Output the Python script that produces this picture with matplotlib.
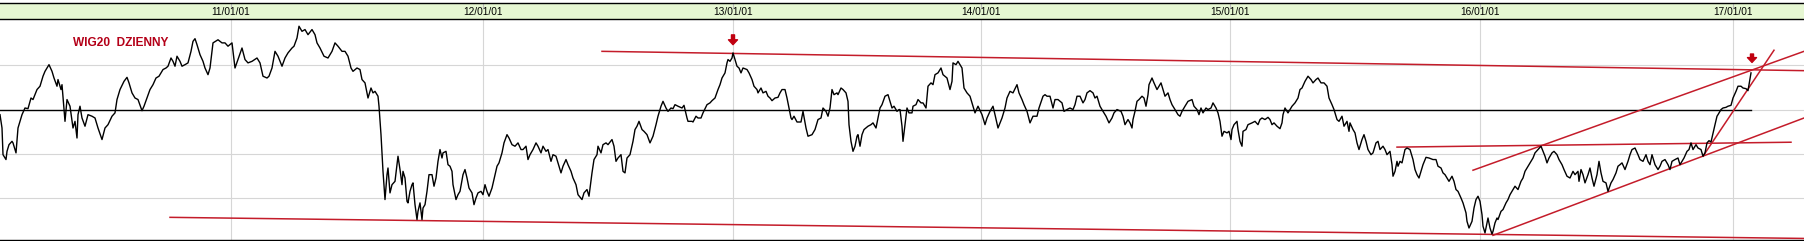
import matplotlib
matplotlib.use("Agg")
import matplotlib.pyplot as plt

# WIG20 daily close, x = session number (about one session per pixel column)
session = [
    0, 2, 3, 6, 7, 9, 12, 13, 16, 18, 22, 25, 28, 31, 33, 37, 40, 43, 45, 49,
    52, 54, 57, 58, 61, 62, 65, 67, 70, 73, 75, 77, 78, 80, 82, 85, 88, 92, 95, 98,
    102, 105, 108, 112, 115, 117, 120, 124, 127, 129, 132, 135, 138, 142, 144, 147, 150, 153, 156, 159,
    163, 166, 168, 171, 173, 175, 177, 180, 182, 185, 188, 191, 193, 195, 197, 200, 203, 205, 208, 210,
    212, 213, 218, 222,
    225, 228, 232, 235, 238, 242, 245, 248, 252, 257, 260, 263, 267, 269, 272, 275, 278, 282, 285, 288,
    292, 294, 297, 299, 302, 305, 308, 312, 315, 317, 320, 324, 328, 332, 335, 338, 342, 345, 348, 351,
    353, 357, 360, 362, 365, 368, 369, 371, 373, 375, 378, 379, 381, 383, 385, 387, 388, 390, 392, 395,
    398, 400, 402, 403, 405, 407, 408, 410, 412, 413, 415, 417, 418, 420, 422, 423, 425, 427, 429, 432,
    434, 436, 438, 440, 442, 443, 446, 448,
    450, 452, 453, 456, 458, 460, 463, 465, 467, 469, 472, 474, 476, 478, 481, 483, 485, 487, 489, 492,
    495, 497, 499, 502, 504, 507, 509, 512, 515, 518, 521, 523, 526, 528, 530, 533, 536, 538, 541, 543,
    546, 548, 551, 553, 556, 558, 561, 563, 566, 568, 571, 573, 576, 578, 582, 584, 587, 589, 592, 594,
    597, 598, 601, 603, 606, 608, 612, 614, 616, 618, 621, 623, 625, 627, 630, 633, 635, 637, 639, 642,
    644, 647, 650, 653, 656, 658, 661, 663, 666, 668, 671, 673,
    675, 678, 682, 684, 687, 688, 692, 693, 696, 698, 701, 703, 707, 710, 712, 715, 718, 720, 722, 725,
    727, 728, 730, 732, 733, 735, 737, 739, 741, 743, 747, 749, 752, 754, 757, 758, 761, 763, 766, 768,
    770, 772, 775, 778, 780, 782, 785, 787, 789, 791, 792, 794, 797, 799, 801, 803, 806, 808, 812, 815,
    818, 821, 823, 826, 828, 830, 832, 834, 837, 838, 841, 843, 846, 848, 849, 851, 853, 855, 857, 858,
    860, 862, 864, 868, 871, 873, 876, 878, 880, 882, 885, 888, 890, 892, 894, 897, 899,
    900, 902, 903, 905, 907, 909, 912, 913, 916, 918, 921, 923, 926, 928, 931, 933, 935, 938, 941, 943,
    947, 950, 952, 953, 956, 958, 962, 964, 967, 970, 973, 975, 978, 982, 985, 987, 990, 993, 995, 998,
    1002, 1005, 1007, 1010, 1013, 1017, 1019, 1022, 1024, 1027, 1030, 1033, 1037, 1039, 1043, 1045, 1047, 1050, 1053, 1055,
    1058, 1062, 1064, 1067, 1070, 1073, 1075, 1077, 1080, 1083, 1085, 1087, 1090, 1093, 1095, 1097, 1100, 1103, 1106, 1109,
    1112, 1114, 1117, 1121, 1123,
    1125, 1128, 1130, 1132, 1133, 1135, 1137, 1139, 1142, 1144, 1146, 1148, 1149, 1152, 1154, 1157, 1159, 1161, 1163, 1165,
    1168, 1170, 1172, 1175, 1178, 1180, 1182, 1185, 1188, 1192, 1194, 1197, 1199, 1201, 1203, 1206, 1208, 1211, 1213, 1216,
    1218, 1220, 1222, 1224, 1227, 1229, 1231, 1232, 1234, 1237, 1238, 1240, 1242, 1243, 1246, 1248, 1252, 1255, 1258, 1260,
    1262, 1265, 1268, 1270, 1272, 1274, 1277, 1280, 1282, 1283, 1285, 1288, 1290, 1292, 1295, 1298, 1300, 1302, 1305, 1308,
    1311, 1313, 1316, 1318, 1321, 1324, 1327, 1329, 1332, 1334, 1337, 1339, 1342, 1344, 1347, 1349,
    1350, 1353, 1355, 1357, 1359, 1362, 1364, 1366, 1368, 1371, 1373, 1376, 1378, 1380, 1383, 1385, 1387, 1390, 1392, 1393,
    1395, 1397, 1398, 1400, 1402, 1405, 1407, 1410, 1413, 1415, 1417, 1419, 1421, 1423, 1426, 1429, 1433, 1436, 1438, 1441,
    1443, 1445, 1447, 1449, 1452, 1454, 1456, 1458, 1461, 1463, 1466, 1467, 1469, 1472, 1474, 1476, 1478, 1480, 1482, 1483,
    1485, 1487, 1488, 1490, 1492, 1493, 1495, 1497, 1498, 1501, 1503, 1506, 1508, 1510, 1513, 1515, 1518, 1521, 1523, 1525,
    1527, 1530, 1533, 1535, 1538, 1541, 1543, 1545, 1547, 1549, 1552, 1554, 1557, 1559, 1562, 1564, 1567, 1570, 1573,
    1575, 1578, 1579, 1581, 1583, 1585, 1588, 1590, 1592, 1594, 1597, 1599, 1601, 1603, 1606, 1608, 1611, 1613, 1616, 1618,
    1620, 1622, 1625, 1628, 1630, 1632, 1635, 1638, 1640, 1643, 1646, 1648, 1650, 1652, 1655, 1658, 1660, 1662, 1665, 1668,
    1670, 1672, 1675, 1678, 1680, 1682, 1684, 1687, 1689, 1691, 1693, 1696, 1698, 1701, 1703, 1705, 1707, 1709, 1711, 1713,
    1715, 1717, 1718, 1721, 1723, 1726, 1728, 1731, 1733, 1736, 1738, 1741, 1743, 1746, 1748, 1749, 1750, 1751,
]
close = [
    2377, 2317, 2197, 2175, 2212, 2242, 2257, 2250, 2205, 2317, 2377, 2407, 2404, 2452, 2445, 2490, 2505, 2550, 2572, 2602,
    2572, 2542, 2505, 2535, 2490, 2512, 2347, 2445, 2415, 2317, 2347, 2272, 2377, 2415, 2362, 2325, 2377, 2370, 2362, 2317,
    2265, 2317, 2332, 2370, 2385, 2445, 2490, 2527, 2545, 2520, 2475, 2452, 2445, 2395, 2415, 2452, 2490, 2512, 2542, 2550,
    2580, 2587, 2595, 2632, 2617, 2595, 2640, 2617, 2595, 2602, 2610, 2662, 2707, 2719, 2692, 2647, 2617, 2587, 2557, 2587,
    2662, 2700, 2714, 2700,
    2700, 2685, 2700, 2587, 2625, 2677, 2625, 2610, 2617, 2632, 2610, 2550, 2542, 2550, 2587, 2662, 2640, 2595, 2632, 2655,
    2677, 2685, 2722, 2775, 2752, 2760, 2737, 2760, 2737, 2700, 2677, 2640, 2632, 2662, 2700, 2685, 2662, 2662, 2640, 2587,
    2572, 2587, 2580, 2535, 2520, 2452, 2467, 2497, 2475, 2482, 2460, 2415, 2287, 2122, 1995, 2107, 2137, 2025, 2062, 2077,
    2190, 2130, 2062, 2122, 2092, 1987, 1980, 2032, 2062, 2070, 1972, 1905, 1942, 1980, 1905, 1957, 1972, 2032, 2107, 2107,
    2055, 2092, 2167, 2220, 2182, 2205, 2212, 2152,
    2145, 2122, 2062, 1995, 2017, 2032, 2107, 2130, 2092, 2047, 2025, 1972, 2002, 2025, 2032, 2017, 2062, 2032, 2010, 2047,
    2107, 2145, 2160, 2205, 2250, 2287, 2272, 2242, 2235, 2250, 2220, 2220, 2235, 2175, 2197, 2220, 2250, 2235, 2205, 2235,
    2212, 2220, 2167, 2197, 2190, 2160, 2115, 2145, 2175, 2152, 2122, 2092, 2062, 2017, 1995, 2025, 2040, 2010, 2115, 2175,
    2197, 2235, 2205, 2242, 2250, 2242, 2265, 2235, 2167, 2182, 2197, 2122, 2115, 2182, 2197, 2257, 2310, 2325, 2347, 2310,
    2302, 2287, 2250, 2280, 2332, 2370, 2415, 2437, 2407, 2392, 2407, 2404,
    2422, 2415, 2407, 2419, 2362, 2347, 2347, 2344, 2370, 2362, 2362, 2385, 2422, 2430, 2440, 2452, 2490, 2512, 2542, 2565,
    2610, 2625, 2617, 2632, 2655, 2625, 2595, 2587, 2565, 2587, 2580, 2565, 2535, 2505, 2490, 2475, 2497, 2475, 2482, 2460,
    2452, 2440, 2452, 2455, 2475, 2490, 2490, 2452, 2407, 2362, 2355, 2370, 2344, 2344, 2344, 2392, 2317, 2280, 2287, 2310,
    2355, 2362, 2407, 2392, 2370, 2407, 2490, 2467, 2475, 2467, 2497, 2490, 2475, 2437, 2332, 2257, 2212, 2235, 2280, 2287,
    2235, 2287, 2310, 2325, 2332, 2340, 2317, 2362, 2407, 2422, 2460, 2467, 2437, 2407, 2415, 2392, 2400,
    2400, 2325, 2257, 2332, 2407, 2385, 2385, 2415, 2422, 2445, 2430, 2430, 2407, 2505, 2520, 2512, 2557, 2565, 2587, 2557,
    2542, 2490, 2527, 2610, 2602, 2617, 2587, 2497, 2475, 2460, 2415, 2385, 2415, 2377, 2332, 2362, 2392, 2415, 2377, 2317,
    2362, 2407, 2452, 2482, 2475, 2512, 2475, 2445, 2422, 2392, 2340, 2370, 2370, 2407, 2460, 2467, 2460, 2460, 2407, 2445,
    2445, 2430, 2392, 2400, 2407, 2400, 2422, 2460, 2460, 2430, 2445, 2475, 2485, 2475, 2452, 2460, 2415, 2392, 2370, 2340,
    2362, 2385, 2400, 2392, 2370,
    2332, 2355, 2340, 2317, 2355, 2392, 2437, 2445, 2460, 2452, 2415, 2467, 2512, 2542, 2520, 2490, 2505, 2520, 2490, 2460,
    2475, 2445, 2422, 2400, 2377, 2370, 2392, 2415, 2437, 2445, 2415, 2400, 2377, 2407, 2385, 2407, 2400, 2407, 2430, 2407,
    2385, 2347, 2280, 2302, 2295, 2302, 2265, 2310, 2332, 2347, 2310, 2257, 2235, 2302, 2310, 2332, 2340, 2347, 2332, 2355,
    2362, 2355, 2365, 2355, 2332, 2340, 2325, 2314, 2340, 2377, 2407, 2385, 2400, 2415, 2430, 2452, 2490, 2497, 2527, 2550,
    2535, 2520, 2535, 2542, 2520, 2520, 2505, 2452, 2422, 2400, 2355, 2347, 2370, 2325, 2347, 2302,
    2340, 2310, 2295, 2250, 2220, 2265, 2287, 2257, 2220, 2197, 2205, 2250, 2257, 2220, 2235, 2220, 2197, 2212, 2152, 2100,
    2122, 2167, 2145, 2167, 2160, 2220, 2227, 2220, 2175, 2130, 2107, 2092, 2122, 2152, 2185, 2182, 2175, 2175, 2145, 2137,
    2115, 2107, 2092, 2077, 2100, 2077, 2040, 2032, 2002, 1980, 1935, 1897, 1867, 1897, 1957, 1995, 2010, 1987, 1927, 1875,
    1845, 1890, 1912, 1867, 1840, 1852, 1890, 1912, 1905, 1942, 1950, 1980, 1995, 2017, 2040, 2055, 2040, 2077, 2092, 2122,
    2137, 2160, 2182, 2205, 2220, 2235, 2212, 2190, 2160, 2182, 2205, 2212, 2197, 2175, 2152, 2130, 2100, 2092, 2122,
    2107, 2122, 2077, 2130, 2107, 2070, 2107, 2137, 2092, 2055, 2107, 2167, 2115, 2077, 2070, 2032, 2070, 2085, 2115, 2145,
    2152, 2160, 2130, 2167, 2197, 2220, 2227, 2197, 2175, 2167, 2197, 2167, 2152, 2197, 2152, 2130, 2145, 2167, 2175, 2152,
    2130, 2167, 2175, 2182, 2152, 2167, 2182, 2212, 2220, 2250, 2220, 2242, 2227, 2220, 2190, 2205, 2250, 2260, 2254, 2294,
    2332, 2370, 2377, 2400, 2407, 2410, 2415, 2419, 2452, 2482, 2505, 2505, 2497, 2494, 2485, 2512, 2542, 2565,
]

# first session of each year and its label (yy/mm/dd)
year_start = [231, 483, 733, 981, 1230, 1480, 1733]
year_labels = ["11/01/01", "12/01/01", "13/01/01", "14/01/01", "15/01/01", "16/01/01", "17/01/01"]
grid_levels = [2000, 2200, 2400, 2600]

# trend lines drawn on the chart: (session_a, level_a, session_b, level_b)
trend_lines = [
    (170, 1915, 1804, 1820),   # long support
    (602, 2662, 1804, 2575),   # long resistance
    (1397, 2231, 1791, 2253),  # flat resistance
    (1473, 2127, 1804, 2662),  # channel top
    (1493, 1834, 1804, 2362),  # channel bottom
    (1703, 2190, 1774, 2667),  # steep support
]
level_line = (0, 1751, 2400)
arrows = [(733, 2736, 2692), (1752, 2650, 2612)]

RED = "#c41c2a"

fig = plt.figure(figsize=(18.04, 2.41), dpi=100)
ax = fig.add_axes([0, 1 / 241, 1, 221 / 241])
hdr = fig.add_axes([0, 1 - 19 / 241, 1, 15.7 / 241])

ax.set_xlim(0, 1804)
ax.set_ylim(1813, 2807.5)
for lv in grid_levels:
    ax.axhline(lv, color="#d6d6d6", lw=0.8, zorder=1)
for s in year_start:
    ax.axvline(s, color="#d6d6d6", lw=0.8, zorder=1)

ax.plot([level_line[0], level_line[1]], [level_line[2], level_line[2]], color="black", lw=1.0, zorder=2)
for x0, y0, x1, y1 in trend_lines:
    ax.plot([x0, x1], [y0, y1], color=RED, lw=1.1, zorder=3)
ax.plot(session, close, color="black", lw=1.0, zorder=4)

for s, top, tip in arrows:
    ax.annotate("", xy=(s, tip), xytext=(s, top),
                arrowprops=dict(facecolor="#c00010", edgecolor="#c00010",
                                width=2.2, headwidth=6.5, headlength=3.5, shrink=0))

ax.text(73, 2701, "WIG20  DZIENNY", color="#b40018", fontsize=8.6, fontweight="bold",
        family="Liberation Sans", va="center", ha="left")

ax.set_xticks([])
ax.set_yticks([])
for side in ["top", "left", "right"]:
    ax.spines[side].set_visible(False)
ax.spines["bottom"].set_color("black")
ax.spines["bottom"].set_linewidth(1.0)

hdr.set_facecolor("#e6f7d2")
hdr.set_xlim(0, 1804)
hdr.set_ylim(0, 1)
hdr.set_xticks([])
hdr.set_yticks([])
for side in ["left", "right"]:
    hdr.spines[side].set_visible(False)
for side in ["top", "bottom"]:
    hdr.spines[side].set_color("black")
    hdr.spines[side].set_linewidth(1.0)
for s, lab in zip(year_start, year_labels):
    hdr.axvline(s, ymin=0.7, ymax=1, color="#bbbbbb", lw=0.8)
    hdr.text(s, 0.45, lab, ha="center", va="center", fontsize=7.3, family="Liberation Sans")

fig.savefig("out.png", dpi=100)
